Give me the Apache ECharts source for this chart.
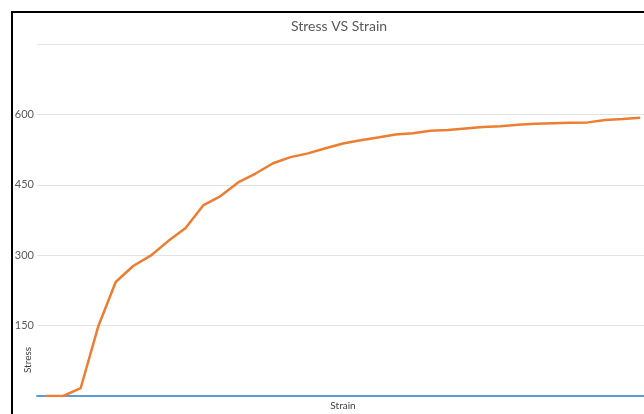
<!DOCTYPE html>
<html>
<head>
<meta charset="utf-8">
<title>Stress VS Strain</title>
<script src="https://cdn.jsdelivr.net/npm/echarts@6/dist/echarts.min.js"></script>
<style>
  html, body { margin: 0; padding: 0; background: #fff; }
  #chart { width: 644px; height: 414px; }
</style>
</head>
<body>
<div id="chart"></div>
<script>
// strain steps (category axis, labels not shown in the original)
var strainSteps = [];
for (var k = 1; k <= 35; k++) strainSteps.push(String(k));

// stress readings
var stressValues = [0, 0, 17, 148, 243, 277, 299, 330, 358, 406,
  426, 455, 474, 496, 509, 517, 528, 538, 545, 551,
  557, 560, 565, 567, 570, 573, 575, 578, 580, 581,
  582, 583, 588, 590, 593];

// the blue series sits on the zero line
var strainValues = [0, 0, 0, 0, 0, 0, 0, 0, 0, 0,
  0, 0, 0, 0, 0, 0, 0, 0, 0, 0,
  0, 0, 0, 0, 0, 0, 0, 0, 0, 0,
  0, 0, 0, 0, 0];

var yTicks = [0, 150, 300, 450, 600, 750];

var chart = echarts.init(document.getElementById('chart'));
var font = 'Lato, "Open Sans", sans-serif';

var option = {
  animation: false,
  title: {
    text: 'Stress VS Strain',
    left: 286,
    top: 14,
    textStyle: { fontFamily: font, fontSize: 14, fontWeight: 'normal', color: '#595959' }
  },
  grid: { left: 37, right: -5, top: 44, bottom: 18, outerBoundsMode: 'none' },
  xAxis: {
    type: 'category',
    data: strainSteps,
    boundaryGap: true,
    name: 'Strain',
    nameLocation: 'middle',
    nameGap: 5,
    nameTextStyle: { fontFamily: font, fontSize: 10, color: '#404040' },
    axisLine: { show: true, lineStyle: { color: '#5b9bd5', width: 2 } },
    axisTick: { show: false },
    axisLabel: { show: false }
  },
  yAxis: {
    type: 'value',
    min: yTicks[0],
    max: yTicks[yTicks.length - 1],
    interval: 150,
    axisLine: { show: false },
    axisTick: { show: false },
    axisLabel: {
      fontFamily: font, fontSize: 11, color: '#595959', margin: 3,
      formatter: function (v) {
        return (v === yTicks[0] || v === yTicks[yTicks.length - 1]) ? '' : String(v);
      }
    },
    splitLine: { lineStyle: { color: '#e3e3e3', width: 1 } }
  },
  series: [
    {
      name: 'Strain',
      type: 'line',
      data: strainValues,
      showSymbol: false,
      lineStyle: { color: '#5b9bd5', width: 2 },
      z: 2
    },
    {
      name: 'Stress',
      type: 'line',
      data: stressValues,
      showSymbol: false,
      lineStyle: { color: '#ed7d31', width: 2.5 },
      z: 3
    }
  ],
  graphic: [
    {
      type: 'text',
      x: 28, y: 360,
      rotation: Math.PI / 2,
      style: {
        text: 'Stress',
        fontFamily: font, fontSize: 10, fill: '#404040',
        align: 'center', verticalAlign: 'middle'
      }
    },
    {
      type: 'polyline',
      shape: { points: [[12, 414], [12, 12], [644, 12]] },
      style: { stroke: '#000', lineWidth: 2, fill: null }
    }
  ]
};

chart.setOption(option);
</script>
</body>
</html>
